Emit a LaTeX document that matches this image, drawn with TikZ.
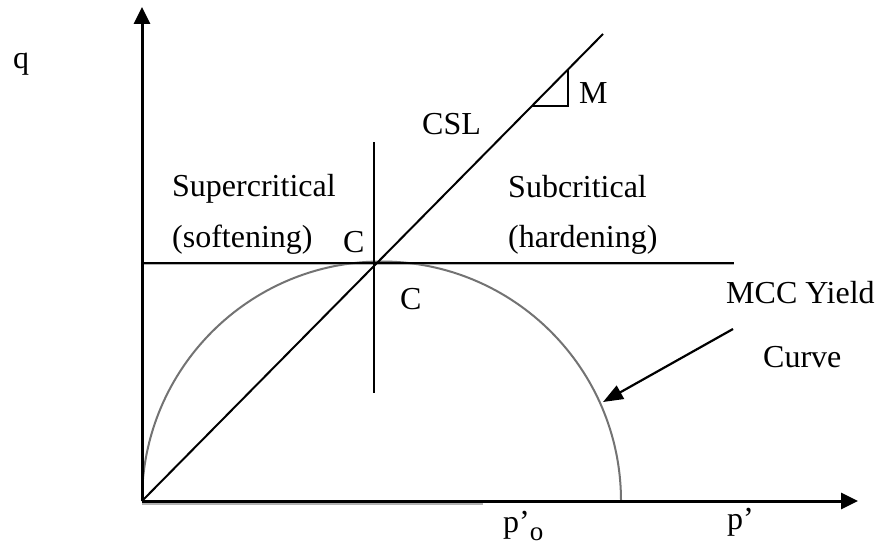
\documentclass[tikz,border=0pt]{standalone}
\usepackage{fontspec}
\setmainfont{Liberation Serif}
\usetikzlibrary{arrows.meta}
\tikzset{
  axis/.style={line width=3pt,-{Triangle[length=17pt,width=16pt]}},
  thinline/.style={line width=2pt},
  yieldcurve/.style={line width=2pt,draw=black!55},
  shadow/.style={line width=2pt,draw=black!30},
  pointer/.style={line width=2.2pt,-{Triangle[length=20pt,width=15pt]}},
  lbl/.style={inner sep=0pt,anchor=base west,font=\fontsize{32}{38}\selectfont},
}
\begin{document}
\begin{tikzpicture}[x=1pt,y=1pt]
\useasboundingbox (0,0) rectangle (877,550);
% coordinates
\coordinate (O) at (142,49);
\coordinate (ytip) at (142,543);
\coordinate (xtip) at (858,49);
\coordinate (cslend) at (603,516);
\coordinate (hl) at (142,287);
\coordinate (hr) at (734,287);
\coordinate (vt) at (374,408);
\coordinate (vb) at (374,157);
\coordinate (t1) at (532,444);
\coordinate (t2) at (568,444);
\coordinate (t3) at (568,480);
\coordinate (arrs) at (733,221);
\coordinate (arre) at (603,148);
\coordinate (sh1) at (142,47);
\coordinate (sh2) at (483,47);
\coordinate (sh3) at (142,285.8);
\coordinate (sh4) at (734,285.8);
% shadows
\draw[shadow,line width=3pt] (sh1) -- (sh2);
\draw[shadow,line width=1.5pt] (sh3) -- (sh4);
% yield curve
\draw[yieldcurve] (O) arc[start angle=180,end angle=0,radius=239.5pt];
% lines
\draw[thinline] (hl) -- (hr);
\draw[thinline] (vt) -- (vb);
\draw[thinline] (O) -- (cslend);
\draw[thinline] (t1) -- (t2) -- (t3);
% axes
\draw[axis] (O) -- (ytip);
\draw[axis] (O) -- (xtip);
% pointer
\draw[pointer] (arrs) -- (arre);
% labels
\node[lbl] (q) at (13,481) {q};
\node[lbl] (csl) at (422,415) {CSL};
\node[lbl] (m) at (579,446) {M};
\node[lbl] (super) at (172,354) {Supercritical};
\node[lbl] (sub) at (508,353) {Subcritical};
\begin{scope}
\clip (0,296) rectangle (877,550);
\node[lbl] (soft) at (172,303) {(softening)};
\node[lbl] (c1) at (343,297.5) {C};
\node[lbl] (hard) at (508,303) {(hardening)};
\end{scope}
\node[lbl] (c2) at (400,241) {C};
\node[lbl] (mcc) at (726,247) {MCC Yield};
\node[lbl] (curve) at (763,183) {Curve};
\node[lbl] (po) at (503,18) {p’\raisebox{-8pt}{\fontsize{27}{30}\selectfont o}};
\node[lbl] (p) at (727,21) {p’};
\end{tikzpicture}
\end{document}
